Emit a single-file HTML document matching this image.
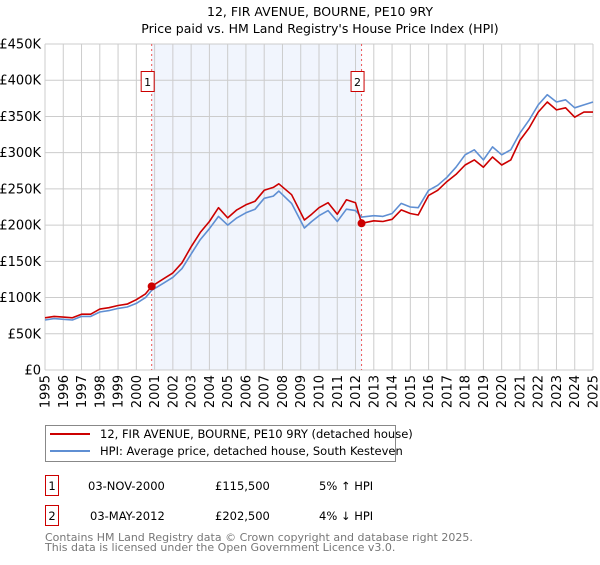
<!DOCTYPE html>
<html><head><meta charset="utf-8"><style>
body{margin:0;background:#fff;font-family:"Liberation Sans","DejaVu Sans",sans-serif;}
svg text{font-family:"DejaVu Sans","Liberation Sans",sans-serif;}
</style></head><body>
<svg id="c" width="600" height="560" xmlns="http://www.w3.org/2000/svg">
<text x="320" y="16" text-anchor="middle" font-size="12.5">12, FIR AVENUE, BOURNE, PE10 9RY</text>
<text x="320" y="33" text-anchor="middle" font-size="12.5">Price paid vs. HM Land Registry's House Price Index (HPI)</text>
<g id="plot"></g>
<g>
<rect x="45.5" y="425.5" width="350" height="36" fill="#fff" stroke="#888"/>
<line x1="50" y1="434" x2="90" y2="434" stroke="#cc0000" stroke-width="2"/>
<text x="100" y="438" font-size="11.5">12, FIR AVENUE, BOURNE, PE10 9RY (detached house)</text>
<line x1="50" y1="451" x2="90" y2="451" stroke="#5f8fd3" stroke-width="2"/>
<text x="100" y="455" font-size="11.5">HPI: Average price, detached house, South Kesteven</text>
</g>
<g font-size="11.5">
<rect x="45.5" y="475.5" width="13" height="20" fill="#fff" stroke="#cc0000"/>
<text x="52" y="490" text-anchor="middle">1</text>
<text x="88" y="490">03-NOV-2000</text><text x="215" y="490">£115,500</text><text x="319" y="490">5% ↑ HPI</text>
<rect x="45.5" y="505.5" width="13" height="20" fill="#fff" stroke="#cc0000"/>
<text x="52" y="520" text-anchor="middle">2</text>
<text x="90" y="520">03-MAY-2012</text><text x="215" y="520">£202,500</text><text x="319" y="520">4% ↓ HPI</text>
</g>
<text x="45" y="541" font-size="11" fill="#777">Contains HM Land Registry data © Crown copyright and database right 2025.</text>
<text x="45" y="551" font-size="11" fill="#777">This data is licensed under the Open Government Licence v3.0.</text>
</svg>
<script>
const years=[1995,1995.5,1996,1996.5,1997,1997.5,1998,1998.5,1999,1999.5,2000,2000.5,2000.84,2001.5,2002,2002.5,2003,2003.5,2004,2004.5,2005,2005.5,2006,2006.5,2007,2007.5,2007.8,2008.5,2009.2,2009.6,2010,2010.5,2011,2011.5,2012,2012.33,2013,2013.5,2014,2014.5,2015,2015.43,2016,2016.5,2017,2017.5,2018,2018.5,2019,2019.5,2020,2020.5,2021,2021.5,2022,2022.5,2023,2023.5,2024,2024.5,2025];
const hpiValues=[69,71,70,69,74,74,80,82,85,87,92,100,110,120,128,140,160,180,195,212,200,210,217,222,237,240,247,230,196,205,213,220,205,222,220,211,213,212,216,230,225,224,248,255,266,280,297,304,290,308,297,304,327,345,366,380,370,373,362,366,370];
const priceValues=[72,74,73,72,77,77,84,86,89,91,97,105,115.5,126,134,148,170,190,205,224,210,221,228,233,248,252,257,242,207,215,224,231,215,235,231,202.5,206,205,208,221,216,214,241,248,260,270,283,290,280,294,283,290,317,334,356,370,359,362,349,356,356];
const yTicks=[0,50,100,150,200,250,300,350,400,450];
const yTickLabels=["£0","£50K","£100K","£150K","£200K","£250K","£300K","£350K","£400K","£450K"];
const xTickYears=[1995,1996,1997,1998,1999,2000,2001,2002,2003,2004,2005,2006,2007,2008,2009,2010,2011,2012,2013,2014,2015,2016,2017,2018,2019,2020,2021,2022,2023,2024,2025];
const saleYears=[2000.84,2012.33];
const salePrices=[115.5,202.5];
const saleLabels=["1","2"];
const X0=45,X1=593,Y0=370,Y1=44;
const xs=y=>X0+(y-1995)/30*(X1-X0);
const ys=v=>Y0-v/450*(Y0-Y1);
const NS="http://www.w3.org/2000/svg";
const g=document.getElementById('plot');
function mk(t,a){const e=document.createElementNS(NS,t);for(const k in a)e.setAttribute(k,a[k]);g.appendChild(e);return e;}
let e=mk('rect',{x:xs(saleYears[0]),y:Y1,width:xs(saleYears[1])-xs(saleYears[0]),height:Y0-Y1,fill:'#eef3fd',opacity:0.8});


yTicks.forEach((v,i)=>{
 let l=mk('line',{x1:X0,x2:X1,y1:ys(v),y2:ys(v),stroke:'#ccc'});
 
 
 let t=mk('text',{x:X0-4,y:ys(v)+4.5,'text-anchor':'end','font-size':13});
 t.textContent=yTickLabels[i];
 
 
});
xTickYears.forEach(yr=>{
 let l=mk('line',{x1:xs(yr),x2:xs(yr),y1:Y1,y2:Y0,stroke:'#ccc'});
 
 
 let t=mk('text',{x:0,y:0,'text-anchor':'end','font-size':13,transform:`translate(${xs(yr)+4.5},${Y0+5}) rotate(-90)`});
 t.textContent=yr;
 
 
});
saleYears.forEach((yr,i)=>{
 let l=mk('line',{x1:xs(yr),x2:xs(yr),y1:Y1,y2:Y0,stroke:'#e55','stroke-dasharray':'2,3'});
 
 
});
function path(vals,col,name){
 const d=years.map((y,i)=>(i?'L':'M')+xs(y).toFixed(1)+','+ys(vals[i]).toFixed(1)).join(' ');
 const p=mk('path',{d,fill:'none',stroke:col,'stroke-width':1.6,'stroke-linejoin':'round'});
 
 
}
path(hpiValues,'#5f8fd3','hpi-line');
path(priceValues,'#cc0000','price-paid-line');
saleYears.forEach((yr,i)=>{
 let c=mk('circle',{cx:xs(yr),cy:ys(salePrices[i]),r:4,fill:'#cc0000'});
 
 
 let r=mk('rect',{x:xs(yr)-10.5,y:71.5,width:13,height:20,fill:'#fff',stroke:'#cc0000'});
 
 
 let t=mk('text',{x:xs(yr)-4,y:86,'text-anchor':'middle','font-size':11});
 t.textContent=saleLabels[i];
 
 
});
</script>
</body></html>
